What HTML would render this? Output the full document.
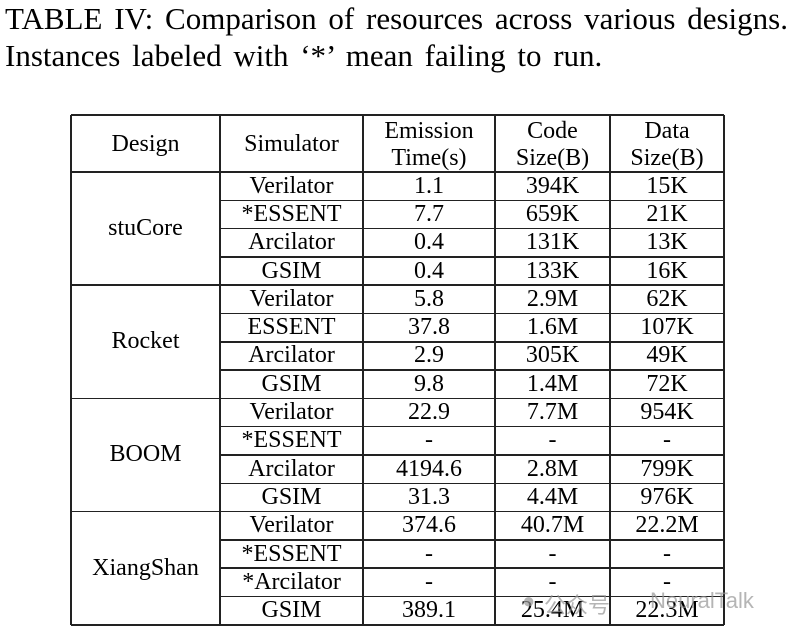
<!DOCTYPE html>
<html><head><meta charset="utf-8">
<style>
html,body{margin:0;padding:0;background:#fff;}
body{width:793px;height:634px;position:relative;overflow:hidden;font-family:"Liberation Serif","Times New Roman",serif;color:#000;}
.cap{position:absolute;left:5px;width:783px;font-size:31px;line-height:37px;white-space:nowrap;}
.l{position:absolute;background:#222;}
.c{position:absolute;font-size:24px;text-align:center;display:flex;align-items:center;justify-content:center;line-height:27px;}
.wm{position:absolute;top:588px;font-family:"Liberation Sans","Noto Sans CJK SC",sans-serif;font-size:22px;color:rgba(150,150,150,0.7);white-space:nowrap;}
</style></head>
<body>
<div class="cap" style="top:0px;text-align:justify;text-align-last:justify;">TABLE IV: Comparison of resources across various designs.</div>
<div class="cap" style="top:37px;word-spacing:4px;">Instances labeled with ‘*’ mean failing to run.</div>
<div id="tbl"></div>
<div class="wm" style="left:522px;">●</div>
<div class="wm" style="left:544px;">公众号</div>
<div class="wm" style="left:650px;">NeuralTalk</div>
<script>
const colX=[71,220,363,495,610,724];
const top0=115, headH=57, rowH=28.3;
const headers=["Design","Simulator","Emission<br>Time(s)","Code<br>Size(B)","Data<br>Size(B)"];
const designs=["stuCore","Rocket","BOOM","XiangShan"];
const sims=[["Verilator","*ESSENT","Arcilator","GSIM"],["Verilator","ESSENT","Arcilator","GSIM"],["Verilator","*ESSENT","Arcilator","GSIM"],["Verilator","*ESSENT","*Arcilator","GSIM"]];
const emis=[["1.1","7.7","0.4","0.4"],["5.8","37.8","2.9","9.8"],["22.9","-","4194.6","31.3"],["374.6","-","-","389.1"]];
const code=[["394K","659K","131K","133K"],["2.9M","1.6M","305K","1.4M"],["7.7M","-","2.8M","4.4M"],["40.7M","-","-","25.4M"]];
const dat=[["15K","21K","13K","16K"],["62K","107K","49K","72K"],["954K","-","799K","976K"],["22.2M","-","-","22.3M"]];
const T=document.getElementById('tbl');
const bottom=top0+headH+rowH*16;
function line(x,y,w,h,name){const d=document.createElement('div');d.className='l';


d.style.left=x+'px';d.style.top=y+'px';d.style.width=w+'px';d.style.height=h+'px';T.appendChild(d);}
function cell(x0,x1,y0,y1,html,name){const d=document.createElement('div');d.className='c';


d.style.left=x0+'px';d.style.width=(x1-x0)+'px';d.style.top=y0+'px';d.style.height=(y1-y0)+'px';d.innerHTML=html;T.appendChild(d);}
colX.forEach((x,i)=>line(x-0.75,top0,1.5,bottom-top0,'column-border'));
line(colX[0],top0-0.75,colX[5]-colX[0],1.5,'row-border');
line(colX[0],top0+headH-0.75,colX[5]-colX[0],1.5,'row-border');
headers.forEach((h,i)=>cell(colX[i],colX[i+1],top0,top0+headH+2,h,'header-cell'));
designs.forEach((d,g)=>{
  const gy=top0+headH+g*4*rowH;
  cell(colX[0],colX[1],gy,gy+4*rowH,d,'design-cell');
  line(colX[0],gy+4*rowH-0.75,colX[5]-colX[0],1.5,'row-border');
  for(let r=0;r<4;r++){
    const y0=gy+r*rowH,y1=y0+rowH;
    if(r<3) line(colX[1],y1-0.75,colX[5]-colX[1],1.5,'row-border');
    cell(colX[1],colX[2],y0,y1,sims[g][r],'simulator-cell');
    cell(colX[2],colX[3],y0,y1,emis[g][r],'emission-time-cell');
    cell(colX[3],colX[4],y0,y1,code[g][r],'code-size-cell');
    cell(colX[4],colX[5],y0,y1,dat[g][r],'data-size-cell');
  }
});
</script>
</body></html>
